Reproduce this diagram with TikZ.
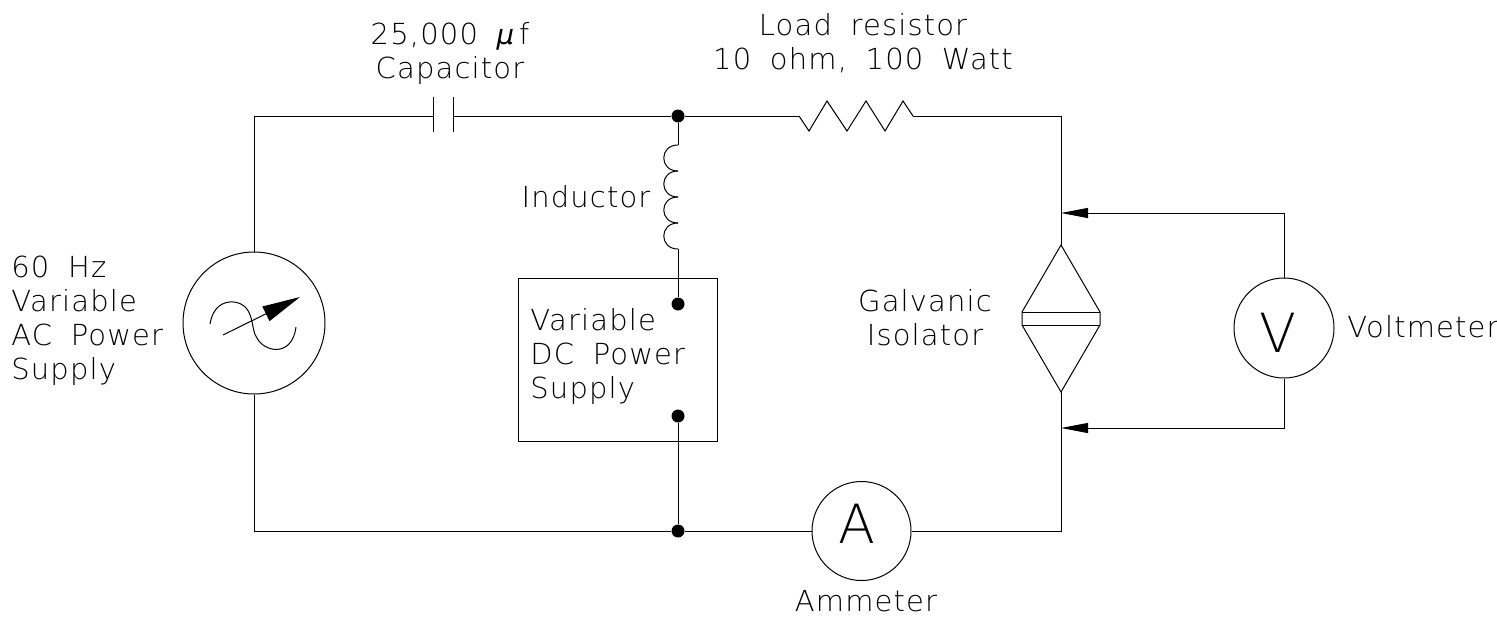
\documentclass[tikz,border=0pt]{standalone}
\usepackage{fontspec}
\setmainfont{DejaVu Sans ExtraLight}[WordSpace=1.8,LetterSpace=4]
\usetikzlibrary{arrows.meta}
\tikzset{
  wire/.style = {line width = 0.5pt},
  dotnode/.style = {circle, fill = black, inner sep = 0, minimum size = 6.5pt},
  meter/.style = {circle, draw = black, line width = 0.5pt, inner sep = 0},
  letter/.style = {inner sep = 0, font = \fontsize{27}{27}\selectfont},
  lbl/.style = {inner sep = 0, align = left, font = \fontsize{14.5}{17}\selectfont},
  probe/.style = {wire, -{Triangle[length = 13.5pt, width = 5pt]}}
}
\begin{document}
\begin{tikzpicture}[x = 0.5pt, y = -0.5pt]
\useasboundingbox (0,0) rectangle (1497,616);
% sources and meters
\node[meter, minimum size = 71pt] (acsrc) at (254,323) {};
\node[meter, minimum size = 49.5pt] (ammeter) at (861.5,531) {};
\node[meter, minimum size = 50pt] (voltmeter) at (1284,328) {};
\node[letter] (aletter) at (857,524) {A};
\node[letter] (vletter) at (1278,333) {V};
\node[dotnode] (jtop) at (678,116) {};
\node[dotnode] (jbot) at (678,531) {};
\node[dotnode] (dcpos) at (678,304) {};
\node[dotnode] (dcneg) at (678,416) {};
\node[draw = black, line width = 0.5pt, inner sep = 0, minimum width = 99.5pt, minimum height = 81.5pt] (dcbox) at (617.5,359.5) {};
% corners and part ends
\coordinate (capa) at (433,116);
\coordinate (capb) at (453,116);
\coordinate (resa) at (799,116);
\coordinate (resb) at (913,116);
\coordinate (inda) at (678,145);
\coordinate (indb) at (678,249);
\coordinate (isotop) at (1061,245);
\coordinate (isobot) at (1061,392);
\coordinate (probea) at (1061,213);
\coordinate (probeb) at (1061,428);
% wires
\draw[wire] (acsrc.north) -- (254,116) -- (capa);
\draw[wire] (capb) -- (jtop) -- (resa);
\draw[wire] (resb) -- (1061,116) -- (isotop);
\draw[wire] (isobot) -- (1061,531) -- (ammeter.east);
\draw[wire] (ammeter.west) -- (jbot) -- (254,531) -- (acsrc.south);
\draw[wire] (jtop) -- (inda);
\draw[wire] (indb) -- (dcpos);
\draw[wire] (dcneg) -- (jbot);
\draw[probe] (voltmeter.north) -- (1284,213) -- (probea);
\draw[probe] (voltmeter.south) -- (1284,428) -- (probeb);
% capacitor
\draw[wire] (433,97) -- (433,132);
\draw[wire] (453,97) -- (453,132);
% resistor
\draw[wire] (resa) -- (809,131) -- (827,101) -- (847,131) -- (866,101) -- (885,131) -- (903,101) -- (resb);
% inductor
\foreach \n in {0,...,3} \draw[wire] (678,145+\n*26) .. controls (659,145+\n*26) and (659,171+\n*26) .. (678,171+\n*26);
% isolator
\draw[wire] (isotop) -- (1022,312) -- (1022,325) -- (isobot) -- (1100,325) -- (1100,312) -- cycle;
\draw[wire] (1022,312) -- (1100,312);
\draw[wire] (1022,325) -- (1100,325);
% sine and needle
\draw[wire] (210,324) .. controls (213,306) and (224,301) .. (234,302) .. controls (256,305) and (250,330) .. (257,338) .. controls (264,352) and (292,358) .. (296,327);
\coordinate (needlea) at (223,335);
\coordinate (needleb) at (300,297);
\draw[wire, -{Triangle[length = 19pt, width = 8pt]}] (needlea) -- (needleb);
% labels
\node[lbl, align = center] (caplbl) at (450,53) {25,000 {\fontspec{DejaVu Sans}[Scale=0.95]\textit{μ}}\,f\\Capacitor};
\node[lbl, align = center] (reslbl) at (863,43) {Load resistor\\10 ohm, 100 Watt};
\node[lbl] (indlbl) at (586,197) {Inductor};
\node[lbl, anchor = west] (aclbl) at (11,321) {60 Hz\\Variable\\AC Power\\Supply};
\node[lbl, anchor = west] (dclbl) at (530,356) {Variable\\DC Power\\Supply};
\node[lbl, align = center] (isolbl) at (925,318) {Galvanic\\Isolator};
\node[lbl, anchor = west] (vlbl) at (1347,327) {Voltmeter};
\node[lbl] (albl) at (866,601) {Ammeter};
\end{tikzpicture}
\end{document}
